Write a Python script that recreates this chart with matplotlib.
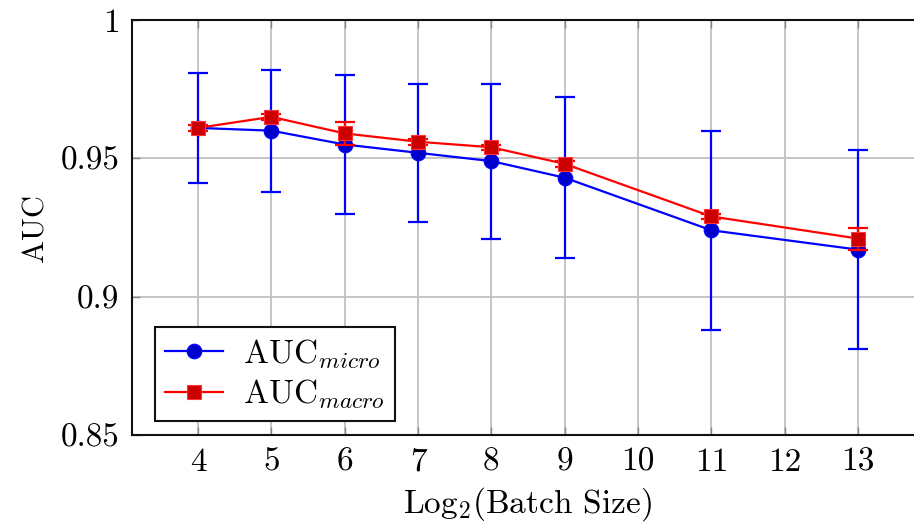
import matplotlib
matplotlib.use("Agg")
import matplotlib.pyplot as plt
from matplotlib.lines import Line2D

# Log2 batch sizes and AUC results (mean and standard deviation)
batch_log2 = [4, 5, 6, 7, 8, 9, 11, 13]
auc_micro = [0.961, 0.960, 0.955, 0.952, 0.949, 0.943, 0.924, 0.917]
auc_micro_err = [0.020, 0.022, 0.025, 0.025, 0.028, 0.029, 0.036, 0.036]
auc_macro = [0.961, 0.965, 0.959, 0.956, 0.954, 0.948, 0.929, 0.921]
auc_macro_err = [0.001, 0.001, 0.004, 0.001, 0.001, 0.001, 0.001, 0.004]

x_ticks = [4, 5, 6, 7, 8, 9, 10, 11, 12, 13]
y_ticks = [0.85, 0.9, 0.95, 1.0]
y_tick_labels = ["0.85", "0.9", "0.95", "1"]

plt.rcParams["font.family"] = "serif"
plt.rcParams["font.serif"] = ["cmr10", "DejaVu Serif"]
plt.rcParams["mathtext.fontset"] = "cm"
plt.rcParams["axes.unicode_minus"] = False

fig = plt.figure(figsize=(9.14, 5.26), dpi=100)
ax = fig.add_axes([132 / 914, 91 / 526, 792 / 914, 415 / 526])

micro_style = dict(color="#0000ff", lw=1.6, marker="o", markersize=10.5,
                   markerfacecolor="#0000cc", markeredgecolor="#0000ff",
                   markeredgewidth=0.8)
macro_style = dict(color="#ff0000", lw=1.6, marker="s", markersize=10,
                   markerfacecolor="#cc0000", markeredgecolor="#ff3333",
                   markeredgewidth=0.8)

# error bars first, then the lines with markers on top of them
ax.errorbar(batch_log2, auc_micro, yerr=auc_micro_err, fmt="none",
            ecolor="#0000ff", elinewidth=1.6, capsize=7, capthick=1.6,
            zorder=3)
ax.plot(batch_log2, auc_micro, zorder=4, **micro_style)
ax.errorbar(batch_log2, auc_macro, yerr=auc_macro_err, fmt="none",
            ecolor="#ff0000", elinewidth=1.6, capsize=7, capthick=1.6,
            zorder=5)
ax.plot(batch_log2, auc_macro, zorder=6, **macro_style)

ax.set_xlim(3.1, 13.9)
ax.set_ylim(0.85, 1.0)
ax.set_xticks(x_ticks)
ax.set_xticklabels([str(t) for t in x_ticks])
ax.set_yticks(y_ticks)
ax.set_yticklabels(y_tick_labels)

ax.grid(True, color="#c0c0c0", lw=1.3)
ax.set_axisbelow(True)
ax.tick_params(direction="in", length=6, width=1.0, color="#888888",
               labelsize=24, pad=9, top=True, right=True)
for s in ax.spines.values():
    s.set_linewidth(1.5)
    s.set_color("#111111")

ax.set_xlabel(r"Log$_2$(Batch Size)", fontsize=24, labelpad=6)
ax.set_ylabel("AUC", fontsize=22, labelpad=8)

handles = [Line2D([], [], **micro_style), Line2D([], [], **macro_style)]
labels = [r"AUC$_{micro}$", r"AUC$_{macro}$"]
leg = ax.legend(handles, labels, loc="lower left",
                bbox_to_anchor=(0.029, 0.034),
                fontsize=24, frameon=True, fancybox=False,
                edgecolor="#111111", framealpha=1, handlelength=1.75,
                borderpad=0.3, labelspacing=0.2, handletextpad=0.6,
                borderaxespad=0)
leg.get_frame().set_linewidth(1.5)
leg.set_zorder(10)

fig.savefig("out.png", dpi=100)
